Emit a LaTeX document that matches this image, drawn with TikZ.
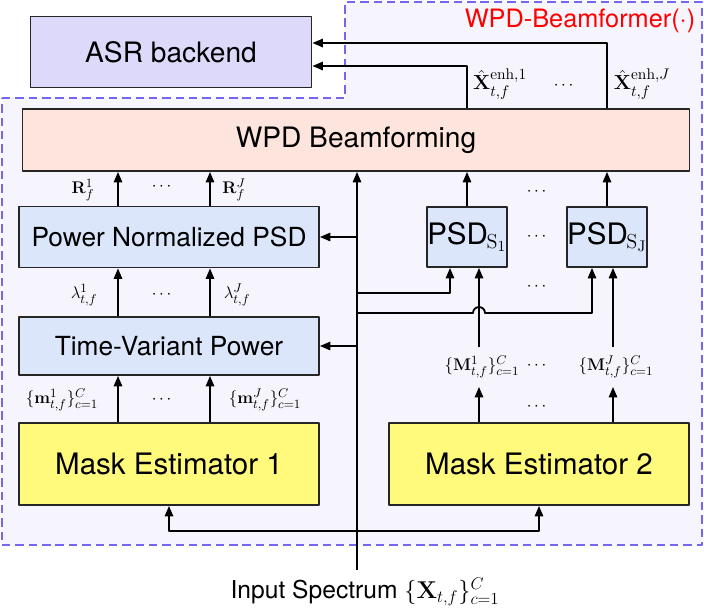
\documentclass[tikz,border=0pt]{standalone}
\usepackage[no-math]{fontspec}
\usepackage{amsmath}
\newfontfamily\boxfont{TeX Gyre Heros}
\usetikzlibrary{arrows.meta}
\definecolor{asrfill}{HTML}{DCD9FB}
\definecolor{wpdfill}{HTML}{FDE4DC}
\definecolor{psdfill}{HTML}{DCE6FB}
\definecolor{maskfill}{HTML}{FFFA7C}
\definecolor{framefill}{HTML}{F6F4FD}
\definecolor{framedash}{HTML}{7466EE}
\tikzstyle{every path}=[line width=1.3pt,line join=round]
\tikzstyle{block}=[draw=black!85,rectangle,inner sep=0pt,font=\boxfont\fontsize{20}{24}\selectfont]
\tikzstyle{arr}=[-{Triangle[length=7.5pt,width=6pt]}]
\tikzstyle{lbl}=[inner sep=0pt,font=\fontsize{13}{15}\selectfont]
\tikzset{boxwh/.style 2 args={minimum width=#1*0.025cm,minimum height=#2*0.025cm}}

\begin{document}
\begin{tikzpicture}[x=0.025cm,y=-0.025cm]
	\useasboundingbox (0,0) rectangle (704,612);
	%% dashed area of the beamformer
	\draw[framedash,fill=framefill,dash pattern=on 6pt off 3.5pt] (2,98) -- (345,98) -- (345,2) -- (702,2) -- (702,545) -- (2,545) -- cycle;
	\node[text=red,inner sep=0pt,font=\boxfont\fontsize{18}{20}\selectfont] (title) at (580,21) {WPD-Beamformer(·)};
	% blocks
	\node[block,fill=asrfill,boxwh={281}{71}] (asr) at (171,52) {ASR backend};
	\node[block,fill=wpdfill,boxwh={667}{62}] (wpd) at (356,140) {WPD Beamforming};
	\node[block,fill=psdfill,boxwh={300}{61},font=\boxfont\fontsize{18.7}{22}\selectfont] (pnpsd) at (169,237) {Power Normalized PSD};
	\node[block,fill=psdfill,boxwh={300}{58},font=\boxfont\fontsize{18.7}{22}\selectfont] (tvp) at (169,346) {Time-Variant Power};
	\node[block,fill=maskfill,boxwh={300}{82},font=\boxfont\fontsize{21}{24}\selectfont] (me1) at (169,464) {Mask Estimator 1};
	\node[block,fill=maskfill,boxwh={300}{82},font=\boxfont\fontsize{21}{24}\selectfont] (me2) at (539,464) {Mask Estimator 2};
	\node[block,fill=psdfill,boxwh={74}{60},font=\boxfont\fontsize{21}{24}\selectfont] (psd1) at (467,237) {PSD\kern-1pt$_{\mathrm{S}_1}$};
	\node[block,fill=psdfill,boxwh={74}{60},font=\boxfont\fontsize{21}{24}\selectfont] (psdJ) at (607,237) {PSD\kern-1pt$_{\mathrm{S}_\mathrm{J}}$};
	% columns
	\coordinate (colA) at (118,0); %% colA is the left branch 1
	\coordinate (colB) at (210,0); %% colB is the left branch J
	\coordinate (ctr) at (357,0); %% ctr is the input line
	\coordinate (colS1) at (450,0);
	\coordinate (colM1) at (479,0);
	\coordinate (colSJ) at (592,0);
	\coordinate (colMJ) at (613,0);
	% outputs to ASR
	\draw[arr] (wpd.north -| psd1) |- ([yshift=-14*0.025cm]asr.east);
	\draw[arr] (wpd.north -| psdJ) |- ([yshift=9*0.025cm]asr.east);
	\node[lbl,font=\fontsize{15}{17}\selectfont] (x1) at (500,84) {$\hat{\mathbf{X}}_{t,f}^{\mathrm{enh},1}$};
	\node[lbl] (xdots) at (565,86) {$\cdots$};
	\node[lbl,font=\fontsize{15}{17}\selectfont] (xJ) at (642,84) {$\hat{\mathbf{X}}_{t,f}^{\mathrm{enh},J}$};
	% left chain
	\draw[arr] (pnpsd.north -| colA) -- (wpd.south -| colA);
	\draw[arr] (pnpsd.north -| colB) -- (wpd.south -| colB);
	\draw[arr] (tvp.north -| colA) -- (pnpsd.south -| colA);
	\draw[arr] (tvp.north -| colB) -- (pnpsd.south -| colB);
	\draw[arr] (me1.north -| colA) -- (tvp.south -| colA);
	\draw[arr] (me1.north -| colB) -- (tvp.south -| colB);
	\node[lbl] (r1) at (83,190) {$\mathbf{R}_f^{1}$};
	\node[lbl] (rdots) at (163,187) {$\cdots$};
	\node[lbl] (rJ) at (234,190) {$\mathbf{R}_f^{J}$};
	\node[lbl] (l1) at (84,295) {$\lambda_{t,f}^{1}$};
	\node[lbl] (ldots) at (163,295) {$\cdots$};
	\node[lbl] (lJ) at (237,295) {$\lambda_{t,f}^{J}$};
	\node[lbl] (m1) at (62,400) {$\{\mathbf{m}_{t,f}^{1}\}_{c=1}^{C}$};
	\node[lbl] (mdots) at (163,400) {$\cdots$};
	\node[lbl] (mJ) at (265,400) {$\{\mathbf{m}_{t,f}^{J}\}_{c=1}^{C}$};
	% right chain
	\draw[arr] (psd1.north) -- (wpd.south -| psd1);
	\draw[arr] (psdJ.north) -- (wpd.south -| psdJ);
	\node[lbl,minimum height=38*0.025cm] (M1) at (482,367) {$\{\mathbf{M}_{t,f}^{1}\}_{c=1}^{C}$};
	\node[lbl,minimum height=38*0.025cm] (MJ) at (616,367) {$\{\mathbf{M}_{t,f}^{J}\}_{c=1}^{C}$};
	\draw[arr] (me2.north -| colM1) -- (M1.south -| colM1);
	\draw[arr] (M1.north -| colM1) -- (psd1.south -| colM1);
	\draw[arr] (me2.north -| colMJ) -- (MJ.south -| colMJ);
	\draw[arr] (MJ.north -| colMJ) -- (psdJ.south -| colMJ);
	\foreach \dy in {192,237,287,366,407} \node[lbl] at (538,\dy) {$\cdots$};
	% input spectrum
	\node[inner sep=0pt,font=\boxfont\fontsize{17.5}{20}\selectfont] (inp) at (365,592) {Input Spectrum $\{\mathbf{X}_{t,f}\}_{c=1}^{C}$};
	\coordinate (inbot) at (357,570); %% inbot is the bottom of the input line
	\draw[arr] (inbot) -- (wpd.south -| ctr);
	\draw[arr] (pnpsd.east -| ctr) -- (pnpsd.east);
	\draw[arr] (tvp.east -| ctr) -- (tvp.east);
	\draw[arr] (ctr |- 0,293) -| (psd1.south -| colS1);
	\draw[arr] (ctr |- 0,313) -- (473,313) arc (180:360:6) -| (psdJ.south -| colSJ);
	\draw[arr] (ctr |- 0,531) -| (me1.south);
	\draw[arr] (ctr |- 0,531) -| (me2.south);
\end{tikzpicture}
\end{document}
